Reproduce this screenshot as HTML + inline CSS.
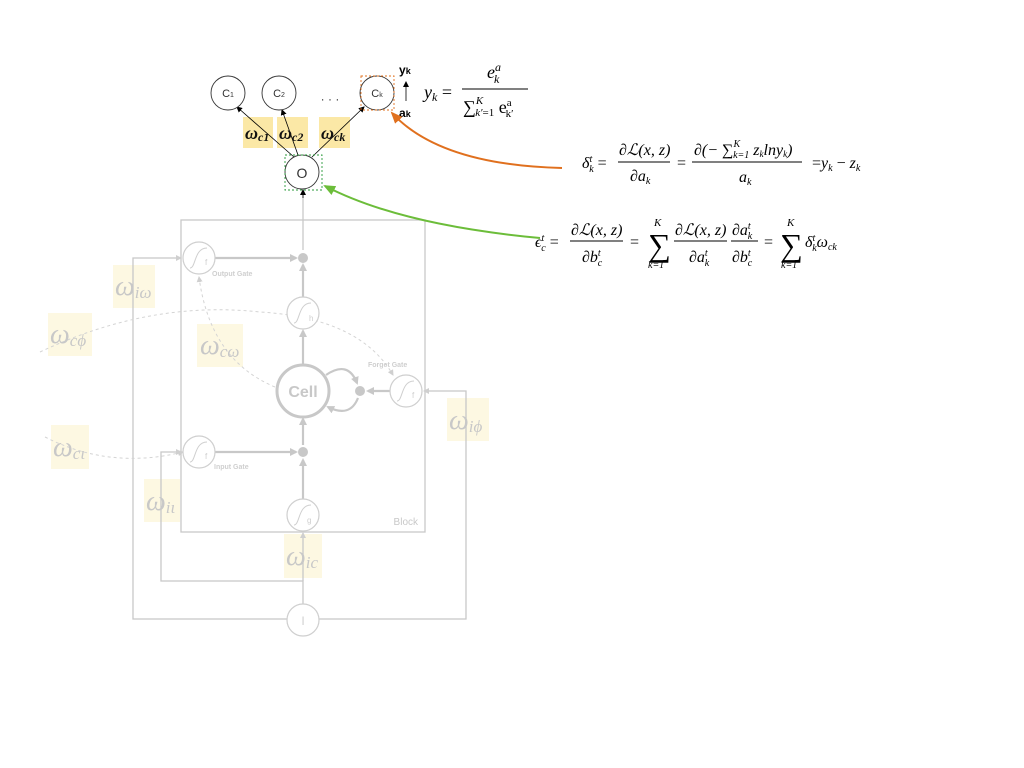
<!DOCTYPE html>
<html><head><meta charset="utf-8"><style>
html,body{margin:0;padding:0;background:#fff;}
svg{display:block;}
.m{font-family:"Liberation Serif",serif;font-style:italic;}
.s{font-family:"Liberation Sans",sans-serif;}
</style></head><body>
<svg width="1024" height="768" viewBox="0 0 1024 768" xmlns="http://www.w3.org/2000/svg">
<defs>
<marker id="ag" markerWidth="8" markerHeight="8" refX="6" refY="4" orient="auto" markerUnits="userSpaceOnUse"><path d="M0,0 L8,4 L0,8z" fill="#c8c8c8"/></marker>
<marker id="agl" markerWidth="6" markerHeight="6" refX="5" refY="3" orient="auto" markerUnits="userSpaceOnUse"><path d="M0,0 L6,3 L0,6z" fill="#cfcfcf"/></marker>
<marker id="ab" markerWidth="6" markerHeight="6" refX="5" refY="3" orient="auto" markerUnits="userSpaceOnUse"><path d="M0,0 L6,3 L0,6z" fill="#000"/></marker>
<marker id="ao" markerWidth="12" markerHeight="10" refX="10" refY="5" orient="auto" markerUnits="userSpaceOnUse"><path d="M0,0 L12,5 L0,10z" fill="#e0701e"/></marker>
<marker id="agr" markerWidth="12" markerHeight="10" refX="10" refY="5" orient="auto" markerUnits="userSpaceOnUse"><path d="M0,0 L12,5 L0,10z" fill="#6cbd3a"/></marker>
</defs>

<g fill="#fdf8e2">
<rect x="113" y="265" width="42" height="43"/>
<rect x="48" y="313" width="44" height="43"/>
<rect x="197" y="324" width="46" height="43"/>
<rect x="51" y="425" width="38" height="44"/>
<rect x="144" y="479" width="36" height="43"/>
<rect x="284" y="534" width="38" height="44"/>
<rect x="447" y="398" width="42" height="43"/>
</g>

<rect x="181" y="220" width="244" height="312" fill="none" stroke="#c8c8c8" stroke-width="1.3"/>
<text x="418" y="525" text-anchor="end" class="s" font-size="10" fill="#c8c8c8">Block</text>

<g fill="none" stroke="#c8c8c8" stroke-width="1.3">
<polyline points="303,604 303,619 133,619 133,258 181,258" marker-end="url(#agl)"/>
<polyline points="319,619 466,619 466,391 424,391" marker-end="url(#agl)"/>
<polyline points="303,604 303,581 161,581 161,452 181,452" marker-end="url(#agl)"/>
<line x1="303" y1="581" x2="303" y2="533" marker-end="url(#agl)"/>
<line x1="303" y1="194" x2="303" y2="250"/>
</g>

<g fill="none" stroke="#c8c8c8" stroke-width="2.2">
<line x1="215" y1="258" x2="296" y2="258" marker-end="url(#ag)"/>
<line x1="215" y1="452" x2="296" y2="452" marker-end="url(#ag)"/>
<line x1="303" y1="297" x2="303" y2="265" marker-end="url(#ag)"/>
<line x1="303" y1="365" x2="303" y2="331" marker-end="url(#ag)"/>
<line x1="303" y1="445" x2="303" y2="419" marker-end="url(#ag)"/>
<line x1="303" y1="499" x2="303" y2="460" marker-end="url(#ag)"/>
<line x1="390" y1="391" x2="368" y2="391" marker-end="url(#ag)"/>
<path d="M326,375 Q348,360 357,383" marker-end="url(#ag)"/>
<path d="M358,398 Q350,418 328,407" marker-end="url(#ag)"/>
</g>

<g fill="none" stroke="#d4d4d4" stroke-width="1" stroke-dasharray="3,3">
<path d="M40,352 Q150,300 260,312 Q360,318 393,375" marker-end="url(#agl)"/>
<path d="M45,437 Q110,470 183,452" marker-end="url(#agl)"/>
<path d="M275,387 Q210,360 199,277" marker-end="url(#agl)"/>
</g>

<g fill="#fff" stroke="#cfcfcf" stroke-width="1.2">
<circle cx="199" cy="258" r="16"/>
<circle cx="199" cy="452" r="16"/>
<circle cx="303" cy="313" r="16"/>
<circle cx="406" cy="391" r="16"/>
<circle cx="303" cy="515" r="16"/>
<circle cx="303" cy="620" r="16"/>
</g>
<circle cx="303" cy="391" r="26" fill="#fff" stroke="#c8c8c8" stroke-width="3"/>
<text x="303" y="397" text-anchor="middle" class="s" font-size="16" font-weight="bold" fill="#c8c8c8">Cell</text>
<g fill="#c8c8c8"><circle cx="303" cy="258" r="5"/><circle cx="303" cy="452" r="5"/><circle cx="360" cy="391" r="5"/></g>
<g fill="none" stroke="#cfcfcf" stroke-width="1">
<path d="M190,268 C196,268 194,248 207,248"/>
<path d="M190,462 C196,462 194,442 207,442"/>
<path d="M294,323 C300,323 298,303 311,303"/>
<path d="M397,401 C403,401 401,381 414,381"/>
<path d="M294,525 C300,525 298,505 311,505"/>
</g>
<g class="s" font-size="8" fill="#cfcfcf">
<text x="205" y="265">f</text><text x="205" y="459">f</text><text x="309" y="321">h</text>
<text x="412" y="398">f</text><text x="307" y="523">g</text>
<text x="303" y="625" text-anchor="middle" font-size="12">I</text>
<text x="212" y="276" font-weight="bold" font-size="7">Output Gate</text>
<text x="214" y="469" font-weight="bold" font-size="7">Input Gate</text>
<text x="368" y="367" font-weight="bold" font-size="7">Forget Gate</text>
</g>

<g class="m" fill="#c8c8c8" font-size="28">
<text x="115" y="295">ω<tspan font-size="17" dy="3">iω</tspan></text>
<text x="50" y="343">ω<tspan font-size="17" dy="3">cϕ</tspan></text>
<text x="200" y="354">ω<tspan font-size="17" dy="3">cω</tspan></text>
<text x="53" y="456">ω<tspan font-size="17" dy="3">cι</tspan></text>
<text x="146" y="510">ω<tspan font-size="17" dy="3">iι</tspan></text>
<text x="286" y="565">ω<tspan font-size="17" dy="3">ic</tspan></text>
<text x="449" y="429">ω<tspan font-size="17" dy="3">iϕ</tspan></text>
</g>

<g fill="#fbe8a6">
<rect x="243" y="117" width="30" height="31"/>
<rect x="277" y="117" width="31" height="31"/>
<rect x="319" y="117" width="31" height="31"/>
</g>
<g stroke="#000" stroke-width="0.8" fill="none">
<line x1="294" y1="157" x2="237" y2="107" marker-end="url(#ab)"/>
<line x1="298" y1="155" x2="282" y2="110" marker-end="url(#ab)"/>
<line x1="312" y1="157" x2="364" y2="107" marker-end="url(#ab)"/>
<line x1="303" y1="198" x2="303" y2="190" marker-end="url(#ab)"/>
<line x1="406" y1="101" x2="406" y2="82" marker-end="url(#ab)"/>
</g>
<g fill="#fff" stroke="#333" stroke-width="0.9">
<circle cx="228" cy="93" r="17"/><circle cx="279" cy="93" r="17"/><circle cx="377" cy="93" r="17"/>
<circle cx="302" cy="172" r="17"/>
</g>
<rect x="361" y="76" width="33" height="34" fill="none" stroke="#e0701e" stroke-width="0.9" stroke-dasharray="2,2"/>
<rect x="285" y="155" width="37" height="35" fill="none" stroke="#2a9a3a" stroke-width="0.9" stroke-dasharray="2,2"/>
<g class="s" fill="#333" font-size="11" text-anchor="middle">
<text x="228" y="97">C<tspan font-size="7">1</tspan></text>
<text x="279" y="97">C<tspan font-size="7">2</tspan></text>
<text x="377" y="97">C<tspan font-size="7">k</tspan></text>
<text x="302" y="178" font-size="14">O</text>
<text x="330" y="103" font-size="12">· · ·</text>
</g>
<g class="s" font-weight="bold" font-size="12" fill="#000">
<text x="399" y="74">y<tspan font-size="9">k</tspan></text>
<text x="399" y="117">a<tspan font-size="9">k</tspan></text>
</g>
<g class="m" font-weight="bold" font-size="18" fill="#111">
<text x="245" y="139">ω<tspan font-size="12" dy="2">c1</tspan></text>
<text x="279" y="139">ω<tspan font-size="12" dy="2">c2</tspan></text>
<text x="321" y="139">ω<tspan font-size="12" dy="2">ck</tspan></text>
</g>

<g class="m" fill="#000" font-size="18">
<text x="424" y="98">y<tspan font-size="12" dy="3">k</tspan><tspan dy="-3" font-style="normal"> =</tspan></text>
<text x="487" y="78">e<tspan font-size="12" dy="-7">a</tspan><tspan font-size="12" dx="-7" dy="12">k</tspan></text>
<line x1="462" y1="89" x2="528" y2="89" stroke="#000" stroke-width="1"/>
<text x="463" y="113" font-style="normal">∑<tspan class="m" font-size="11" dy="-9">K</tspan><tspan class="m" font-size="11" dx="-8" dy="12">k′</tspan><tspan font-size="11">=1</tspan><tspan dy="-3"> e</tspan><tspan font-size="11" dy="-7">a</tspan><tspan font-size="11" dx="-6" dy="11">k′</tspan></text>
</g>

<path d="M562,168 Q440,165 392,113" fill="none" stroke="#e0701e" stroke-width="2" marker-end="url(#ao)"/>
<path d="M540,238 Q400,225 325,186" fill="none" stroke="#6cbd3a" stroke-width="2" marker-end="url(#agr)"/>

<g class="m" fill="#000" font-size="16">
<text x="582" y="168">δ<tspan font-size="10" dy="-6">t</tspan><tspan font-size="10" dx="-3" dy="10">k</tspan><tspan dy="-4" font-style="normal"> =</tspan></text>
<text x="619" y="155">∂ℒ(x, z)</text>
<line x1="618" y1="162" x2="670" y2="162" stroke="#000"/>
<text x="630" y="181">∂a<tspan font-size="10" dy="3">k</tspan></text>
<text x="677" y="168" font-style="normal">=</text>
<text x="694" y="155">∂(− ∑<tspan font-size="10" dy="-8">K</tspan><tspan font-size="10" dx="-7" dy="11">k=1</tspan><tspan dy="-3"> z</tspan><tspan font-size="9" dy="2">k</tspan><tspan dy="-2">lny</tspan><tspan font-size="9" dy="2">k</tspan><tspan dy="-2">)</tspan></text>
<line x1="692" y1="162" x2="802" y2="162" stroke="#000"/>
<text x="739" y="182">a<tspan font-size="10" dy="3">k</tspan></text>
<text x="812" y="168"><tspan font-style="normal">=</tspan>y<tspan font-size="10" dy="3">k</tspan><tspan dy="-3" font-style="normal"> − </tspan>z<tspan font-size="10" dy="3">k</tspan></text>
</g>

<g class="m" fill="#000" font-size="16">
<text x="535" y="247">ϵ<tspan font-size="10" dy="-6">t</tspan><tspan font-size="10" dx="-3" dy="10">c</tspan><tspan dy="-4" font-style="normal"> =</tspan></text>
<text x="571" y="235">∂ℒ(x, z)</text>
<line x1="570" y1="241" x2="623" y2="241" stroke="#000"/>
<text x="582" y="262">∂b<tspan font-size="10" dy="-6">t</tspan><tspan font-size="10" dx="-3" dy="10">c</tspan></text>
<text x="630" y="247" font-style="normal">=</text>
<text x="648" y="256" font-style="normal" font-size="32">∑</text>
<text x="654" y="226" font-size="11">K</text>
<text x="648" y="268" font-size="10">k=1</text>
<text x="675" y="235">∂ℒ(x, z)</text>
<line x1="674" y1="241" x2="727" y2="241" stroke="#000"/>
<text x="689" y="262">∂a<tspan font-size="10" dy="-6">t</tspan><tspan font-size="10" dx="-3" dy="10">k</tspan></text>
<text x="732" y="235">∂a<tspan font-size="10" dy="-6">t</tspan><tspan font-size="10" dx="-3" dy="10">k</tspan></text>
<line x1="731" y1="241" x2="758" y2="241" stroke="#000"/>
<text x="732" y="262">∂b<tspan font-size="10" dy="-6">t</tspan><tspan font-size="10" dx="-3" dy="10">c</tspan></text>
<text x="764" y="247" font-style="normal">=</text>
<text x="780" y="256" font-style="normal" font-size="32">∑</text>
<text x="787" y="226" font-size="11">K</text>
<text x="781" y="268" font-size="10">k=1</text>
<text x="805" y="247">δ<tspan font-size="10" dy="-6">t</tspan><tspan font-size="10" dx="-3" dy="10">k</tspan><tspan dy="-4">ω</tspan><tspan font-size="10" dy="3">ck</tspan></text>
</g>
</svg>
</body></html>
